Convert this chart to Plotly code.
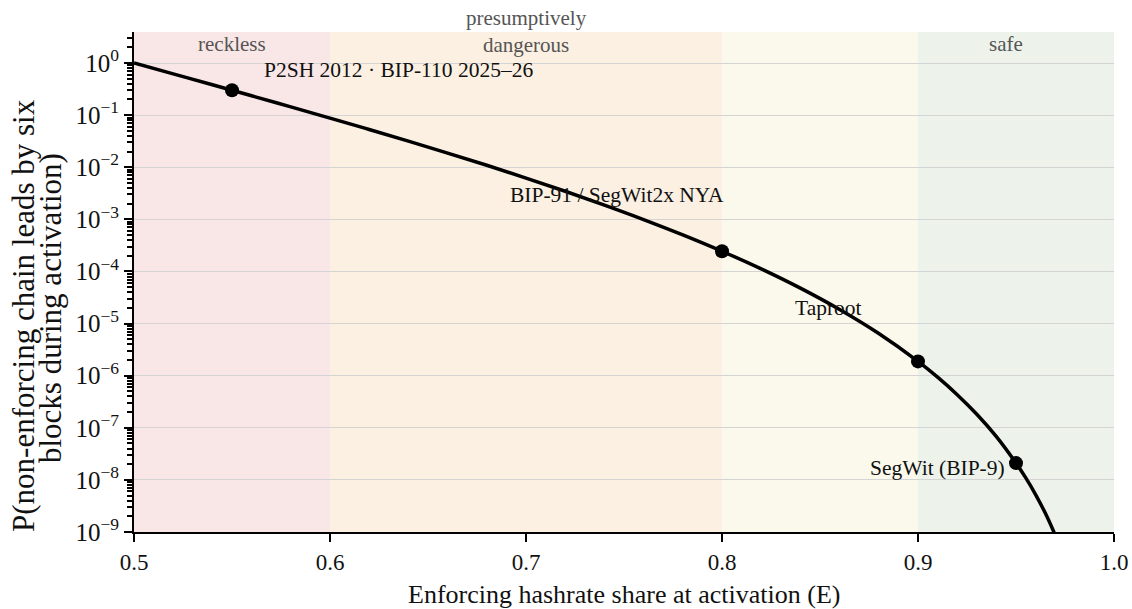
import math
import plotly.graph_objects as go

# Curve values
E_curve = [0.50, 0.52, 0.54, 0.55, 0.56, 0.58, 0.60, 0.62, 0.64, 0.66, 0.68, 0.70,
           0.72, 0.74, 0.76, 0.78, 0.80, 0.82, 0.84, 0.86, 0.88, 0.90, 0.91, 0.92,
           0.93, 0.94, 0.95, 0.955, 0.96, 0.965, 0.97]
P_curve = [1.0, 0.618, 0.382, 0.30, 0.235, 0.144, 0.0878, 0.053, 0.0317, 0.0187, 0.0109, 0.0062,
           0.00346, 0.00188, 0.000992, 0.000503, 0.000244, 0.000112, 4.78e-5, 1.86e-5, 6.43e-6, 1.88e-6, 9.36e-7, 4.32e-7,
           1.82e-7, 6.76e-8, 2.1e-8, 1.09e-8, 5.23e-9, 2.28e-9, 8.75e-10]

# Highlighted activations
event_E = [0.55, 0.80, 0.90, 0.95]
event_P = [0.30, 2.44e-4, 1.88e-6, 2.1e-8]
event_labels = ["P2SH 2012 · BIP-110 2025–26", "BIP-91 / SegWit2x NYA", "Taproot", "SegWit (BIP-9)"]

# Regions
band_x0 = [0.5, 0.6, 0.8, 0.9]
band_x1 = [0.6, 0.8, 0.9, 1.0]
band_labels = ["reckless", "presumptively<br>dangerous", "", "safe"]
band_colors = ["#f9e6e6", "#fbf0e2", "#fbf9ec", "#edf3eb"]

x_ticks = [0.5, 0.6, 0.7, 0.8, 0.9, 1.0]
y_exps = list(range(-9, 1))

x_title = "Enforcing hashrate share at activation (E)"
y_title_lines = ["P(non-enforcing chain leads by six", "blocks during activation)"]

FONT = "Liberation Serif"
TXT = "#111111"

fig = go.Figure()

fig.add_trace(go.Scatter(x=E_curve, y=P_curve, mode="lines",
                         line=dict(color="black", width=3.5, shape="spline"),
                         hoverinfo="skip", showlegend=False))
fig.add_trace(go.Scatter(x=event_E, y=event_P, mode="markers",
                         marker=dict(color="black", size=14),
                         showlegend=False))

shapes = []
for x0, x1, c in zip(band_x0, band_x1, band_colors):
    shapes.append(dict(type="rect", xref="x", yref="paper", x0=x0, x1=x1, y0=0, y1=1,
                       fillcolor=c, line=dict(width=0), layer="below"))

annotations = []
band_xshift = [0, 0, 0, -10]
for x0, x1, lab, xs in zip(band_x0, band_x1, band_labels, band_xshift):
    if lab:
        two = "<br>" in lab
        annotations.append(dict(x=(x0 + x1) / 2, y=1, xref="x", yref="paper",
                                text=lab, showarrow=False, yanchor="top",
                                xshift=xs, yshift=(28 if two else 2),
                                font=dict(family=FONT, size=21, color="#555555")))

# event label offsets (pixels)
offs = [(30, 20, "left"), (-105, 56, "center"), (-90, 53, "center"), (-79, -5, "center")]
for e, p, lab, (dx, dy, anc) in zip(event_E, event_P, event_labels, offs):
    annotations.append(dict(x=e, y=math.log10(p), xref="x", yref="y", yanchor="middle",
                            text=lab, showarrow=False, xanchor=anc,
                            xshift=dx, yshift=dy,
                            font=dict(family=FONT, size=21.5, color=TXT)))

# axis titles as annotations
annotations.append(dict(x=0.5, y=0, xref="paper", yref="paper", text=x_title,
                        showarrow=False, xanchor="center", yanchor="middle", yshift=-62,
                        font=dict(family=FONT, size=26, color=TXT)))
y_title_pos = [(-111, 0.432), (-84, 0.448)]
for line, (xs, yp) in zip(y_title_lines, y_title_pos):
    annotations.append(dict(x=0, y=yp, xref="paper", yref="paper", text=line,
                            textangle=-90, showarrow=False, xanchor="center", yanchor="middle",
                            xshift=xs,
                            font=dict(family=FONT, size=31, color=TXT)))

ytickvals = [10.0 ** k for k in y_exps]
yticktext = ["10<sup>%s</sup>" % (str(k).replace("-", "\u2212")) for k in y_exps]
minor_vals = [m * 10.0 ** k for k in range(-9, 1) for m in range(2, 10)]

fig.update_layout(
    width=1132, height=609,
    margin=dict(l=134, r=18, t=32, b=77, autoexpand=False),
    plot_bgcolor="white", paper_bgcolor="white",
    shapes=shapes, annotations=annotations,
    font=dict(family=FONT, color=TXT),
    xaxis=dict(range=[0.5, 1.0], tickvals=x_ticks,
               ticktext=["%.1f" % v for v in x_ticks],
               showgrid=False, zeroline=False, automargin=False,
               showline=True, linecolor="black", linewidth=2,
               ticks="outside", ticklen=8, tickwidth=2, tickcolor="black",
               tickfont=dict(family=FONT, size=23, color=TXT)),
    yaxis=dict(type="log", range=[-9, 0.595], tickvals=ytickvals, ticktext=yticktext,
               showgrid=True, gridcolor="#d4d4d4", gridwidth=1, zeroline=False,
               automargin=False,
               showline=True, linecolor="black", linewidth=2,
               ticks="outside", ticklen=8, tickwidth=2, tickcolor="black",
               tickfont=dict(family=FONT, size=25, color=TXT),
               minor=dict(tickmode="array", tickvals=minor_vals, ticks="outside",
                          ticklen=5, tickwidth=1.5, tickcolor="black", showgrid=False)),
)

# remove the default page margin / scrollbars so the figure fills the window exactly
page_css = ("document.body.style.margin='0';"
            "document.body.style.overflow='hidden';"
            "document.documentElement.style.overflow='hidden';")
fig.write_html("out.html", post_script=page_css, config={"displayModeBar": False})
